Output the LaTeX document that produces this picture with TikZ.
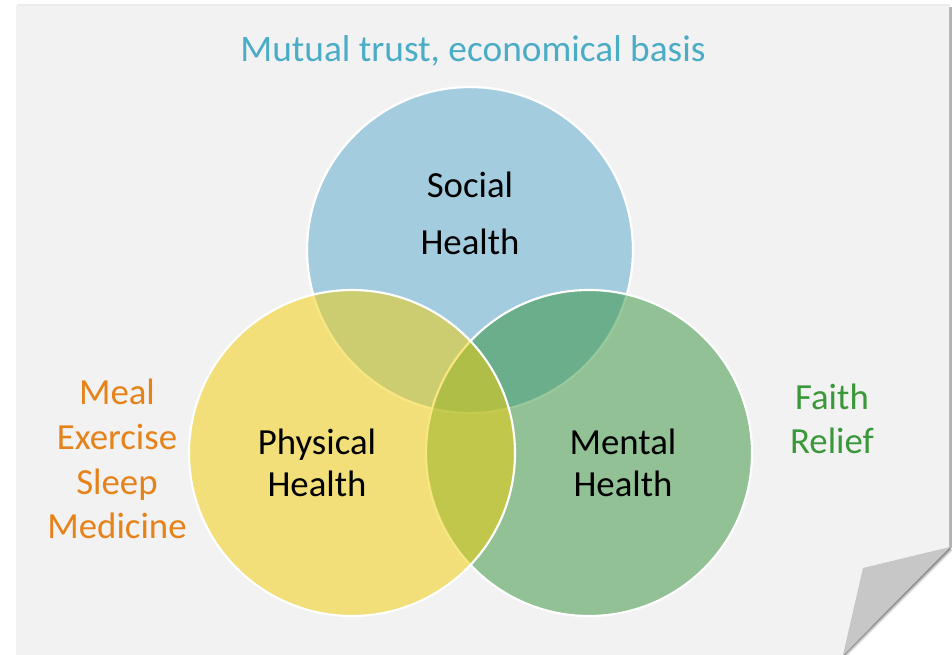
\documentclass[tikz,border=0pt]{standalone}
\usepackage{fontspec}
\setmainfont{Carlito}
\begin{document}
\begin{tikzpicture}[x=0.75pt,y=-0.75pt,
  venn/.style={draw=white,line width=1.6pt,fill opacity=0.5},
  lbl/.style={anchor=base,inner sep=0pt,font=\fontsize{27.6}{33}\selectfont},
  ttl/.style={anchor=base,inner sep=0pt,font=\fontsize{28}{34}\selectfont}]
\definecolor{paper}{HTML}{F2F2F2}
\definecolor{socialc}{HTML}{58A8CE}
\definecolor{mentalc}{HTML}{329238}
\definecolor{physc}{HTML}{F2CE02}
\definecolor{titlec}{HTML}{4BACC6}
\definecolor{orangec}{HTML}{E5831A}
\definecolor{greenc}{HTML}{3A983A}
\useasboundingbox (0,0) rectangle (952,655);
\fill[white] (0,0) rectangle (952,655);
% paper shadow
\fill[black!8] (17,4) rectangle (950,6);
\fill[black!30] (949,7) rectangle (951.5,548);
\foreach \d/\o in {4/0.06,3/0.1,2/0.15,1/0.22}{
  \draw[black,opacity=\o,line width=\d*1.5pt] (950,548) -- (843,655);}
% paper
\fill[paper] (16,6) -- (949,6) -- (949,547) -- (843,655) -- (16,655) -- cycle;
% fold
\fill[black!22] (950,547) -- (863,568) -- (843,655) -- cycle;
% circles
\fill[socialc,venn] (470,250) circle (122.25pt);
\draw[white,line width=1.6pt,opacity=0.5] (470,250) circle (122.25pt);
\path[fill=mentalc,venn] (589,453) circle (122.25pt);
\path[fill=physc,venn] (352,453) circle (122.25pt);
% texts
\node[ttl,text=titlec] (title) at (473,62) {Mutual trust, economical basis};
\node[lbl] (soc1) at (470,198) {Social};
\node[lbl] (soc2) at (470,255) {Health};
\node[lbl] (phy1) at (317,454) {Physical};
\node[lbl] (phy2) at (317,496) {Health};
\node[lbl] (men1) at (623,454) {Mental};
\node[lbl] (men2) at (623,496) {Health};
\node[lbl,text=orangec] (o1) at (117,404) {Meal};
\node[lbl,text=orangec] (o2) at (117,449) {Exercise};
\node[lbl,text=orangec] (o3) at (117,494) {Sleep};
\node[lbl,text=orangec] (o4) at (117,538) {Medicine};
\node[lbl,text=greenc] (g1) at (832,410) {Faith};
\node[lbl,text=greenc] (g2) at (832,453) {Relief};
\end{tikzpicture}
\end{document}
